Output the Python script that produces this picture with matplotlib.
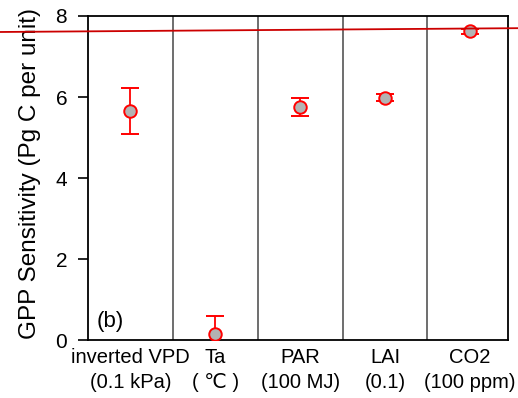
import numpy as np
import matplotlib
matplotlib.use('Agg')
import matplotlib.pyplot as plt

plt.rcParams['font.family'] = ['Liberation Sans', 'DejaVu Sans']

# sensitivity of GPP to each driver
categories = ['inverted VPD\n(0.1 kPa)', 'Ta\n( \u2103 )', 'PAR\n(100 MJ)', 'LAI\n(0.1)', 'CO2\n(100 ppm)']
sensitivity = [5.66, 0.16, 5.76, 5.98, 7.62]
err_low = [0.58, 0.44, 0.24, 0.09, 0.06]
err_high = [0.55, 0.44, 0.22, 0.09, 0.06]

# reference line across the panel
ref_x = [-1.55, 4.61]
ref_y = [7.605, 7.70]

fig = plt.figure(figsize=(5.18, 3.98), dpi=100)
ax = fig.add_axes([0.1699, 0.1457, 0.8108, 0.8141])

idx = np.arange(len(categories))

# separators between the drivers
for s in idx[:-1] + 0.5:
    ax.axvline(s, color='#555555', lw=1.2, zorder=1)

ax.errorbar(idx, sensitivity, yerr=[err_low, err_high], fmt='o', color='red',
            ecolor='red', elinewidth=1.3, capsize=6.5, capthick=1.3,
            markersize=9, markerfacecolor='#b3b3b3', markeredgecolor='red',
            markeredgewidth=1.4, zorder=3)

ax.plot(ref_x, ref_y, color='#cc0000', lw=1.3, clip_on=False, zorder=4)

ax.set_xlim(-0.5, 4.45)
ax.set_ylim(0, 8)
ax.set_yticks([0, 2, 4, 6, 8])
ax.set_xticks(idx)
ax.set_xticklabels(categories, fontsize=14.5, linespacing=1.35)
ax.tick_params(axis='x', length=0, pad=6)
ax.tick_params(axis='y', direction='out', length=7, width=1.2, labelsize=15, pad=8)
for sp in ax.spines.values():
    sp.set_linewidth(1.3)

ax.set_ylabel('GPP Sensitivity (Pg C per unit)', fontsize=17.5)
ax.yaxis.set_label_coords(-0.112, 0.515)
ax.text(0.02, 0.04, '(b)', transform=ax.transAxes, fontsize=16)

fig.savefig('out.png', dpi=100)
